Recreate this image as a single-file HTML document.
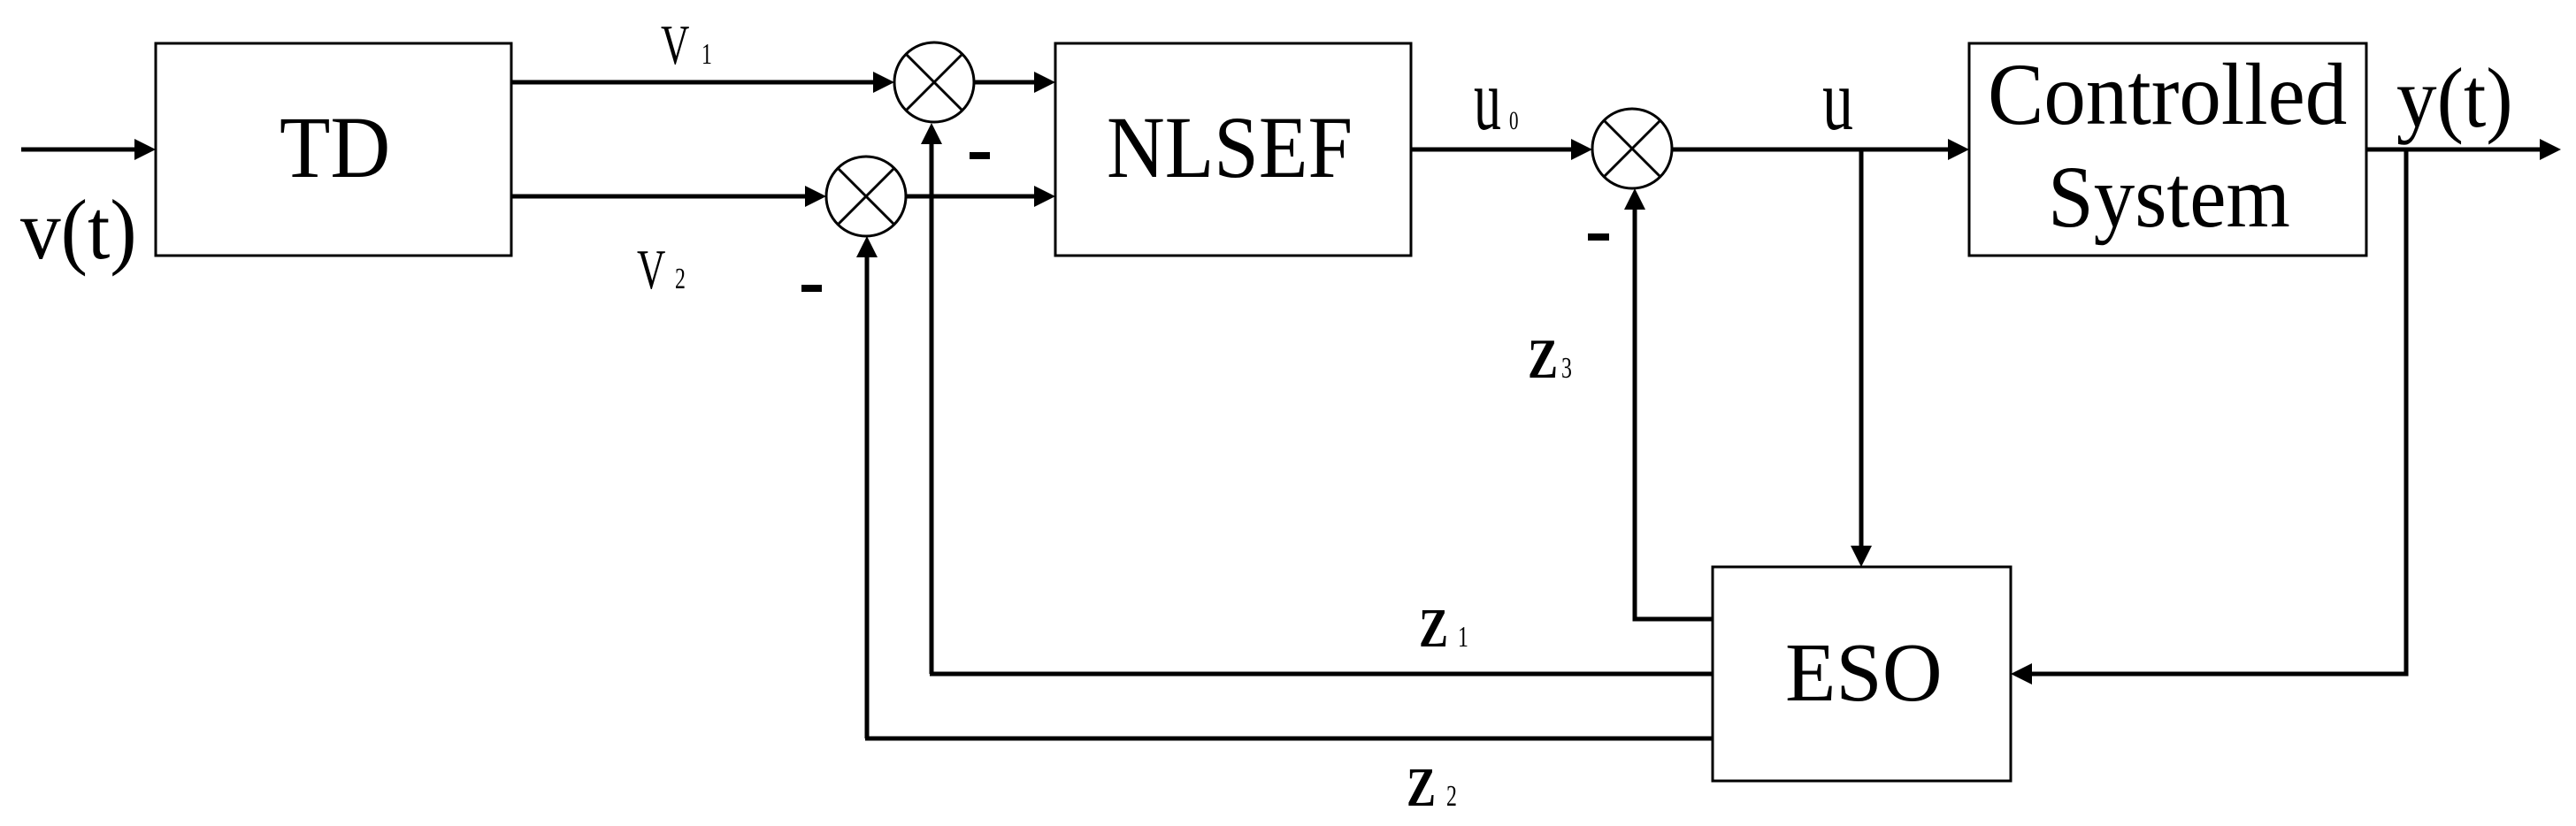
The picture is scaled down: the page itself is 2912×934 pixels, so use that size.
<!DOCTYPE html>
<html><head><meta charset="utf-8"><style>
html,body{margin:0;padding:0;background:#fff;}
svg{display:block;}
</style></head><body>
<svg width="2912" height="934" viewBox="0 0 2912 934" xmlns="http://www.w3.org/2000/svg">
<rect width="2912" height="934" fill="#fff"/>
<g fill="none" stroke="#000" stroke-width="3">
<rect x="176" y="49" width="402" height="240"/>
<rect x="1193" y="49" width="402" height="240"/>
<rect x="2226" y="49" width="449" height="240"/>
<rect x="1936" y="641" width="337" height="242"/>
<circle cx="1056" cy="93" r="45"/>
<circle cx="979" cy="222" r="45"/>
<circle cx="1845" cy="168" r="45"/>
<path d="M1024 61L1088 125M1088 61L1024 125"/>
<path d="M947 190L1011 254M1011 190L947 254"/>
<path d="M1813 136L1877 200M1877 136L1813 200"/>
</g>
<g fill="none" stroke="#000" stroke-width="5">
<path d="M24 169H156"/>
<path d="M578 93H990"/>
<path d="M578 222H913"/>
<path d="M1101 93H1173"/>
<path d="M1024 222H1173"/>
<path d="M1053 762V160"/>
<path d="M980 835V288"/>
<path d="M1595 169H1779"/>
<path d="M1890 169H2206"/>
<path d="M2104 169V620"/>
<path d="M2675 169H2875"/>
<path d="M2720 169V762H2294"/>
<path d="M1936 700H1848V234"/>
<path d="M1936 762H1051"/>
<path d="M1936 835H978"/>
</g>
<g fill="#000">
<path d="M176 169l-24-12v24z"/>
<path d="M1011 93l-24-12v24z"/>
<path d="M934 222l-24-12v24z"/>
<path d="M1193 93l-24-12v24z"/>
<path d="M1193 222l-24-12v24z"/>
<path d="M1053 139l-12 24h24z"/>
<path d="M980 267l-12 24h24z"/>
<path d="M1800 169l-24-12v24z"/>
<path d="M2226 169l-24-12v24z"/>
<path d="M2104 641l-12-24h24z"/>
<path d="M2895 169l-24-12v24z"/>
<path d="M2273 762l24-12v24z"/>
<path d="M1848 213l-12 24h24z"/>
<rect x="1096" y="172" width="23" height="8"/>
<rect x="906" y="322" width="23" height="8"/>
<rect x="1795" y="264" width="24" height="8"/>
</g>
<g font-family="'Liberation Serif','DejaVu Serif',serif" fill="#000">
<text transform="translate(316,200) scale(0.94,1)" font-size="100">TD</text>
<text transform="translate(1251,200) scale(0.91,1)" font-size="100">NLSEF</text>
<text transform="translate(2247,140) scale(0.95,1)" font-size="100">Controlled</text>
<text transform="translate(2315,256) scale(0.93,1)" font-size="100">System</text>
<text transform="translate(2018,792)" font-size="94">ESO</text>
<text transform="translate(23,292) scale(0.95,1)" font-size="96">v(t)</text>
<text transform="translate(2709,143) scale(0.95,1)" font-size="96">y(t)</text>
<text transform="translate(747,72) scale(0.7,1)" font-size="64">V</text>
<text transform="translate(793,72) scale(0.7,1)" font-size="34">1</text>
<text transform="translate(720,326) scale(0.7,1)" font-size="64">V</text>
<text transform="translate(763,326) scale(0.7,1)" font-size="34">2</text>
<text transform="translate(1666,146) scale(0.62,1)" font-size="100">u</text>
<text transform="translate(1706,146) scale(0.7,1)" font-size="30">0</text>
<text transform="translate(2060,146) scale(0.7,1)" font-size="100">u</text>
<text transform="translate(1727,427) scale(0.8,1)" font-size="64" font-weight="bold">Z</text>
<text transform="translate(1765,427) scale(0.7,1)" font-size="34">3</text>
<text transform="translate(1604,731) scale(0.8,1)" font-size="62" font-weight="bold">Z</text>
<text transform="translate(1648,731) scale(0.7,1)" font-size="34">1</text>
<text transform="translate(1590,911) scale(0.8,1)" font-size="62" font-weight="bold">Z</text>
<text transform="translate(1635,911) scale(0.7,1)" font-size="34">2</text>
</g>
</svg>
</body></html>
